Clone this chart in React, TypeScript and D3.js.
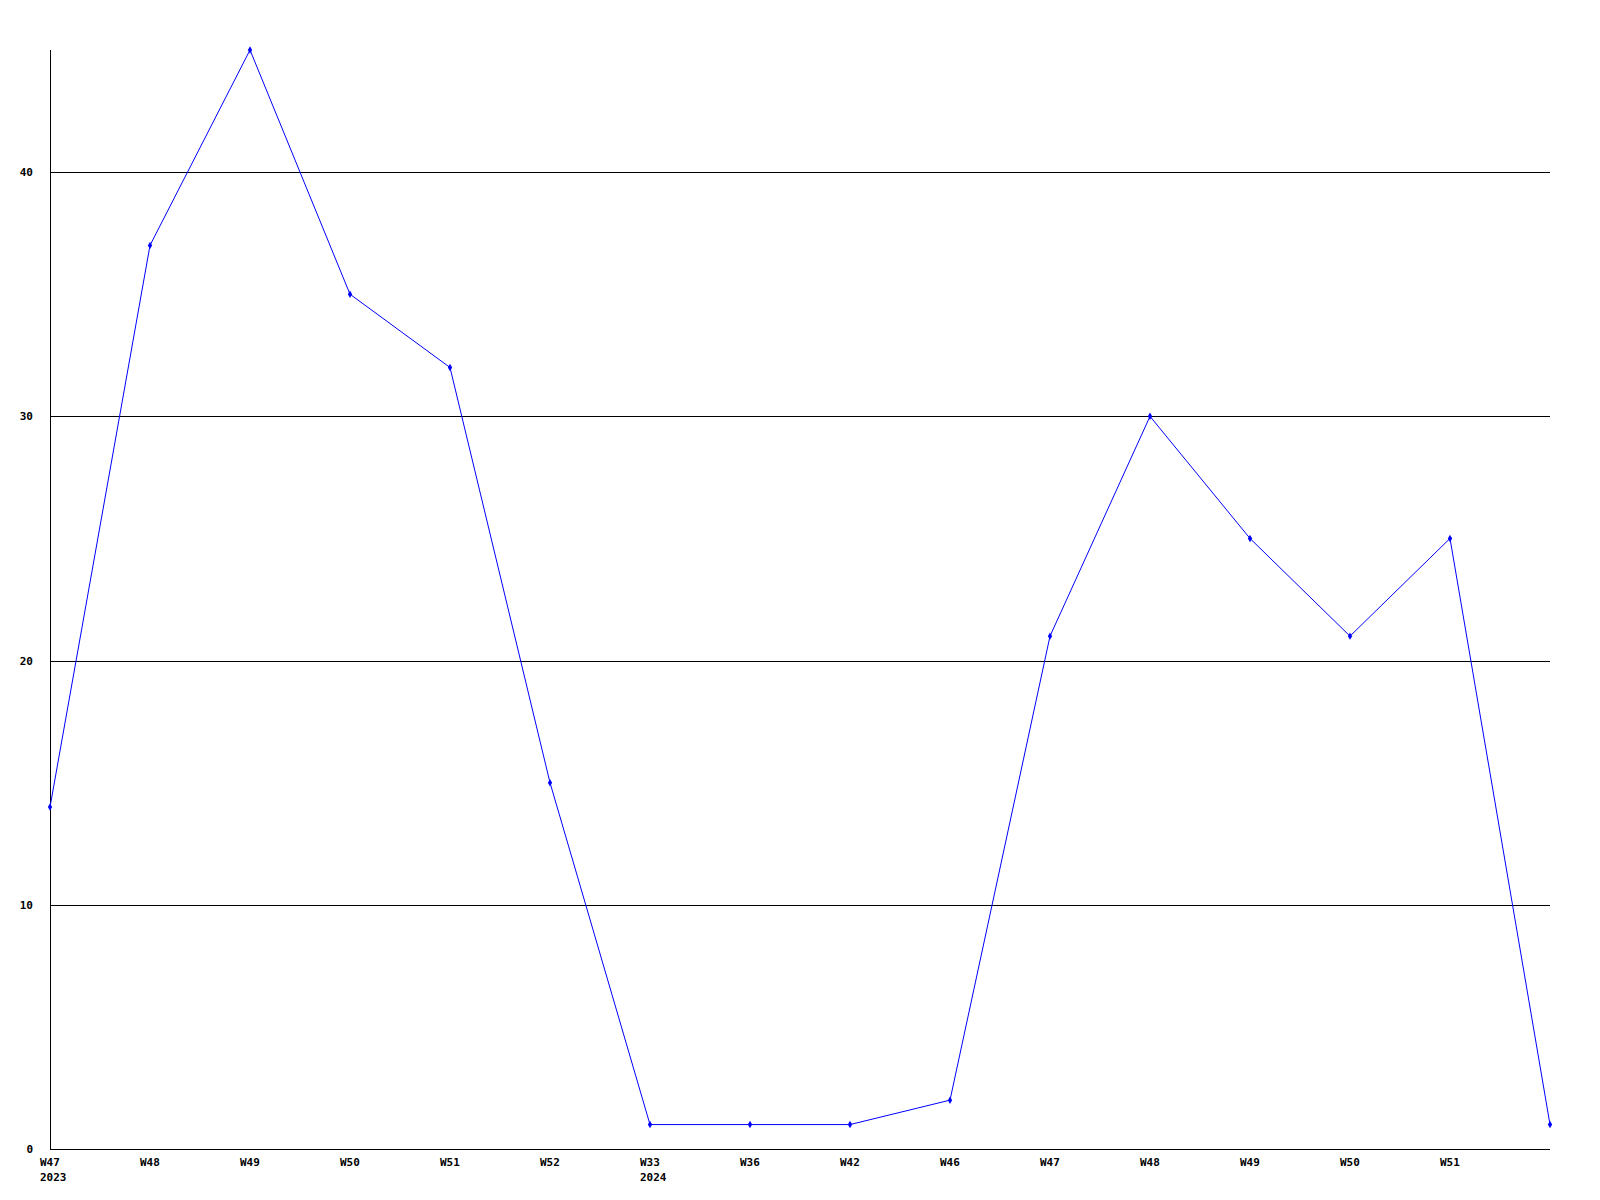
import React from "react";
import * as d3 from "d3";

const weekLabels = ["W47", "W48", "W49", "W50", "W51", "W52", "W33", "W36", "W42", "W46", "W47", "W48", "W49", "W50", "W51", ""];
const yearLabels = ["2023", "", "", "", "", "", "2024", "", "", "", "", "", "", "", "", ""];
const values = [14, 37, 45, 35, 32, 15, 1, 1, 1, 2, 21, 30, 25, 21, 25, 1];
const yTicks = [0, 10, 20, 30, 40];

const W = 1600, H = 1200;
const left = 50, right = 1550, top = 50, bottom = 1149;
const FONT = "'DejaVu Sans Mono', monospace";

export default function App() {
  const x = d3.scaleLinear().domain([0, values.length - 1]).range([left, right]);
  const y = d3.scaleLinear().domain([0, 45]).range([bottom, top]);
  const line = d3.line<number>().x((_, i) => x(i)).y((d) => y(d));
  const marker = d3.symbol().type(d3.symbolDiamond).size(16)();
  return (
    <svg width={W} height={H} style={{ position: "absolute", left: 0, top: 0, background: "#fff" }}>
      <rect x={0} y={0} width={W} height={H} fill="#fff" />
      {yTicks.filter((t) => t > 0).map((t) => (
        <line key={t} x1={left} x2={right} y1={Math.round(y(t)) + 0.5} y2={Math.round(y(t)) + 0.5} stroke="#000" strokeWidth={1} />
      ))}
      <line x1={left + 0.5} x2={left + 0.5} y1={top} y2={bottom + 0.5} stroke="#000" strokeWidth={1} />
      <line x1={left} x2={right} y1={bottom + 0.5} y2={bottom + 0.5} stroke="#000" strokeWidth={1} />
      {yTicks.map((t) => (
        <text key={t} x={33} y={Math.round(y(t)) + 4} textAnchor="end" fontFamily={FONT} fontWeight="bold" fontSize={11} fill="#000">{t}</text>
      ))}
      {weekLabels.map((w, i) => (
        <text key={"w" + i} x={x(i) - 10} y={1166} textAnchor="start" fontFamily={FONT} fontWeight="bold" fontSize={11} fill="#000">{w}</text>
      ))}
      {yearLabels.map((w, i) => w ? (
        <text key={"yr" + i} x={x(i) - 10} y={1181} textAnchor="start" fontFamily={FONT} fontWeight="bold" fontSize={11} fill="#000">{w}</text>
      ) : null)}
      <path d={line(values) || ""} fill="none" stroke="#0000ff" strokeWidth={1} />
      {values.map((v, i) => (
        <path key={"m" + i} d={marker || ""} transform={`translate(${x(i)},${y(v)})`} fill="#0000ff" />
      ))}
    </svg>
  );
}
